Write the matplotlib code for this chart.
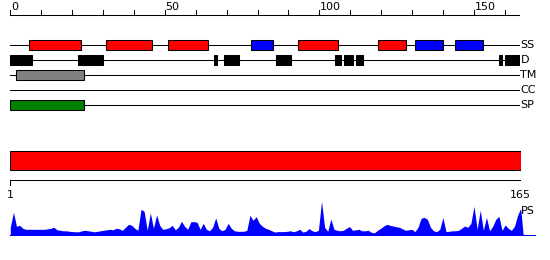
import matplotlib
matplotlib.use('Agg')
import matplotlib.pyplot as plt
from matplotlib.patches import Rectangle

# sequence length and feature tracks (start, end) in residue units
seq_len = 165
ss_helix = [(6, 23), (31, 46), (51, 64), (93, 106), (119, 128)]
ss_strand = [(78, 85), (131, 140), (144, 153)]
disorder = [(0, 7), (22, 30), (66, 67), (69, 74), (86, 91), (105, 107),
            (108, 111), (112, 114), (158, 159), (160, 165)]
tm_regions = [(2, 24)]
cc_regions = []
sp_regions = [(0, 24)]

track_names = ['SS', 'D', 'TM', 'CC', 'SP']
top_ticks = list(range(0, 161, 10))
top_labels = [0, 50, 100, 150]

# per-residue profile (residues 1..165)
ps_scores = [
    8, 23, 9, 10, 7, 6, 6, 6, 6, 6, 6, 6, 6.5, 7, 8, 5.5, 5, 4.5, 4.5, 4,
    3.7, 3.5, 3.5, 4.5, 5, 4.5, 4, 3.5, 4, 4.5, 5, 5.5, 6, 5.5, 7, 6.5, 5, 8, 11, 10,
    7, 5, 26, 24, 5, 22.5, 7, 20.5, 10, 6, 6.5, 7.5, 10, 5.5, 8, 14, 9, 6, 13.5, 13.7,
    13, 6, 12, 6, 4.5, 8, 17.5, 7, 4.5, 6, 12, 7, 4.5, 4, 4, 4, 5, 20, 15, 18.7,
    12, 9, 7, 6, 4.5, 3.2, 3.7, 3.7, 3.7, 4, 4.5, 3.5, 4.5, 6, 3.2, 4, 6.7, 4.5, 3.7, 5,
    34, 8, 4, 16.3, 6, 5, 4.5, 5, 7, 8.7, 5, 5.5, 6, 4.5, 4.5, 5, 3, 2.5, 5, 7,
    9.3, 11, 10, 9.3, 8.5, 8, 6.5, 5, 5.5, 6, 3.7, 8, 17, 18, 16, 8, 4.5, 3.7, 6, 17.7,
    3.7, 4, 4.5, 4.5, 5, 7, 9.3, 8, 12, 29, 6, 25, 5, 18, 4.5, 9, 16, 19, 5, 10.3,
    7, 5, 9, 20, 27,
]

W, H = 550, 260
LEFT = 10.3
PX_PER_RES = 3.09
LW = 0.75
FS = 8

fig = plt.figure(figsize=(W / 100, H / 100), dpi=100)

# top panel: feature tracks, y in pixel rows (0 at top)
ax1 = fig.add_axes([LEFT / W, 0, PX_PER_RES * seq_len / W, 1])
ax1.set_xlim(0, seq_len)
ax1.set_ylim(H, 0)
ax1.axis('off')

# ruler
ruler_y = 14.7
ax1.plot([0, seq_len], [ruler_y, ruler_y], color='black', lw=LW)
for t in top_ticks:
    ax1.plot([t, t], [10, ruler_y], color='black', lw=LW)
for t in top_labels:
    ax1.text(t + 0.2, 9.8, str(t), ha='left', va='baseline', fontsize=FS)

row_y = {'SS': 45, 'D': 60.3, 'TM': 75.3, 'CC': 90, 'SP': 105.3}
box_h = 10

def draw_boxes(regions, y, color):
    for s, e in regions:
        ax1.add_patch(Rectangle((s, y - box_h / 2), e - s, box_h,
                                facecolor=color, edgecolor='black',
                                linewidth=LW, zorder=3))

for name in track_names:
    y = row_y[name]
    ax1.plot([0, seq_len], [y, y], color='black', lw=LW, zorder=1)
    ax1.text(seq_len + 0.1, y, name, ha='left', va='center', fontsize=FS,
             clip_on=False)

draw_boxes(ss_helix, row_y['SS'], '#ff0000')
draw_boxes(ss_strand, row_y['SS'], '#0000ff')
draw_boxes(disorder, row_y['D'], 'black')
draw_boxes(tm_regions, row_y['TM'], '#808080')
draw_boxes(cc_regions, row_y['CC'], '#ffff00')
draw_boxes(sp_regions, row_y['SP'], '#008000')

# bottom panel: full-length bar and 1..165 ruler
ax2 = fig.add_axes([LEFT / W, 0, 510.4 / W, 1])
ax2.set_xlim(1, seq_len)
ax2.set_ylim(H, 0)
ax2.axis('off')
ax2.add_patch(Rectangle((1, 150.7), seq_len - 1, 19.6, facecolor='#ff0000',
                        edgecolor='black', linewidth=LW))
ax2.plot([1, seq_len], [180.3, 180.3], color='black', lw=LW)
for t in [1, seq_len]:
    ax2.plot([t, t], [180.3, 185], color='black', lw=LW)
    ax2.text(t, 195.5, str(t), ha='center', va='center', fontsize=FS)

# profile
ax3 = fig.add_axes([LEFT / W, (H - 235.3) / H, 510.4 / W, 40 / H])
ax3.set_xlim(1, seq_len)
ax3.set_ylim(0, 40)
ax3.axis('off')
xs = list(range(1, seq_len + 1))
ax3.fill_between(xs + [seq_len + 0.8], 0, ps_scores + [0], color='#0000ff',
                 linewidth=0, clip_on=False)
ax3.plot([1, 169.6], [0, 0], color='#0000ff', lw=LW, clip_on=False)
ax3.text(seq_len, 24, 'PS', ha='left', va='center', fontsize=FS, clip_on=False)

fig.savefig('out.png', dpi=100)
